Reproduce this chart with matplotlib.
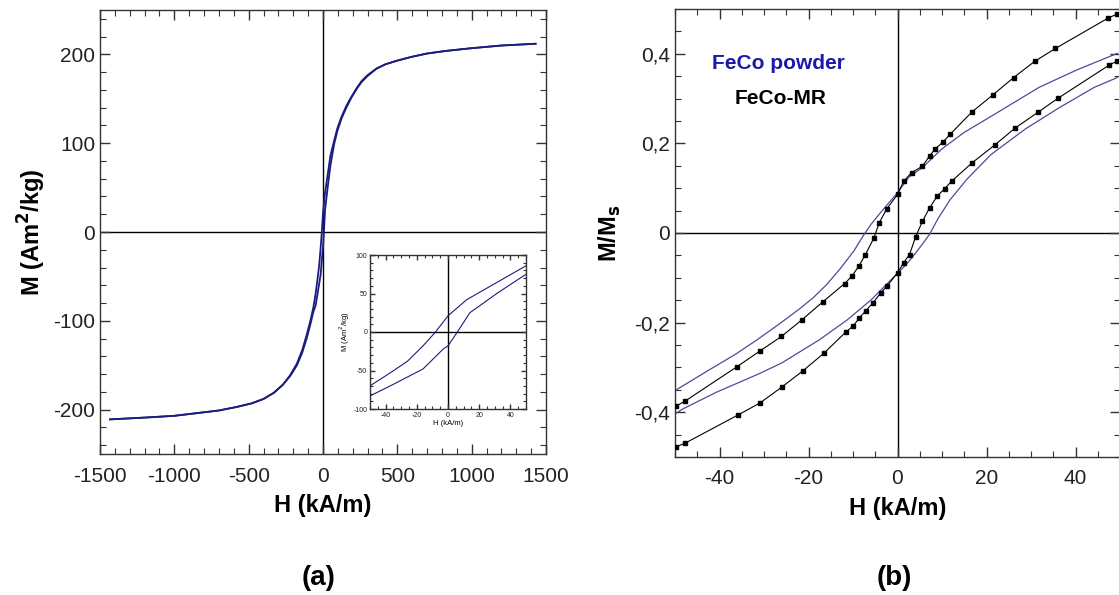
"""Hysteresis loops: (a) FeCo powder full loop with low-field inset, (b) normalised loops powder vs MR."""
import matplotlib
matplotlib.use("Agg")
import matplotlib.pyplot as plt
from matplotlib.ticker import MultipleLocator, FuncFormatter

plt.rcParams["font.family"] = ["Liberation Sans", "DejaVu Sans"]
plt.rcParams["axes.unicode_minus"] = False

# ---- panel (a): M (Am2/kg) vs H (kA/m), FeCo powder
h_desc_a = [1430, 1200, 1000, 830, 700, 590, 500, 422, 360, 302, 260, 230, 190, 157, 125, 97, 75,
            50, 31, 12, 0, -8, -16, -26, -37, -50, -65, -85, -110, -140, -175, -220, -270, -330,
            -400, -480, -580, -700, -850, -1000, -1200, -1432]
m_desc_a = [212, 210, 207, 204, 201, 197, 193, 189, 184, 177, 170, 163, 152, 142, 130, 117, 103,
            86, 64, 42, 21, 0, -18, -38, -53, -70, -85, -100, -116, -133, -148, -161, -172, -181,
            -188, -193, -197, -201, -204, -207, -209, -211]
h_asc_a = [-1432, -1200, -1000, -850, -700, -580, -480, -400, -330, -270, -220, -175, -140, -110,
           -85, -65, -50, -37, -16, -3, 0, 6, 14, 32, 50, 75, 97, 125, 157, 190, 230, 260, 302,
           360, 422, 500, 590, 700, 830, 1000, 1200, 1430]
m_asc_a = [-211, -209, -207, -204, -201, -197, -193, -188, -181, -172, -162, -150, -136, -120,
           -104, -90, -83, -70, -48, -22, -18, 0, 25, 51, 75, 99, 114, 128, 140, 151, 162, 169, 176,
           184, 189, 193, 197, 201, 204, 207, 210, 212]

# ---- panel (b): M/Ms vs H (kA/m)
h_mr_desc = [49.4, 47.2, 35.5, 30.8, 26.1, 21.4, 16.7, 11.8, 10.2, 8.4, 7.2, 5.6, 3.2, 1.4, 0,
             -2.4, -4.1, -5.3, -7.2, -8.7, -10.3, -11.9, -16.7, -21.5, -26.1, -31, -36, -47.7, -49.7]
m_mr_desc = [0.489, 0.479, 0.412, 0.383, 0.347, 0.308, 0.27, 0.22, 0.203, 0.187, 0.172, 0.149, 0.135,
             0.116, 0.086, 0.054, 0.023, -0.011, -0.048, -0.074, -0.097, -0.113, -0.153, -0.194,
             -0.231, -0.264, -0.298, -0.375, -0.386]
h_mr_asc = [-49.7, -47.7, -35.8, -31, -26, -21.3, -16.5, -11.5, -10, -8.6, -7.1, -5.5, -3.8, -2.4, 0,
            1.4, 2.7, 4.1, 5.6, 7.2, 8.9, 10.6, 12.2, 16.8, 21.8, 26.4, 31.5, 36.1, 47.6, 49.4]
m_mr_asc = [-0.477, -0.469, -0.406, -0.38, -0.344, -0.308, -0.268, -0.22, -0.208, -0.19, -0.173,
            -0.156, -0.134, -0.119, -0.089, -0.066, -0.048, -0.008, 0.026, 0.056, 0.082, 0.099,
            0.116, 0.157, 0.196, 0.234, 0.269, 0.301, 0.375, 0.384]
h_pw_desc = [49.4, 40.3, 31.8, 21.8, 14.9, 9.9, 5.6, 2.6, 0, -3.6, -5.9, -7.5, -9.8, -12.9, -15.9,
             -19, -22.1, -26.7, -31.5, -36.3, -42.9, -49.7]
m_pw_desc = [0.401, 0.364, 0.325, 0.265, 0.224, 0.187, 0.146, 0.125, 0.09, 0.048, 0.02, -0.003,
             -0.04, -0.08, -0.115, -0.145, -0.17, -0.204, -0.238, -0.27, -0.309, -0.35]
h_pw_asc = [-49.7, -48.3, -40.6, -31.3, -26, -17.5, -11.3, -5.9, -2.1, 0, 1.8, 3.5, 5.5, 7.2, 9.1,
            11.8, 15.6, 21, 28.7, 36.4, 44.2, 49.4]
m_pw_asc = [-0.402, -0.393, -0.355, -0.315, -0.29, -0.238, -0.194, -0.149, -0.111, -0.09, -0.072,
            -0.052, -0.026, -0.003, 0.032, 0.074, 0.12, 0.175, 0.232, 0.28, 0.325, 0.347]

NAVY = "#1c1c80"
BLUE_THIN = "#4b4b9c"
W, H = 1119, 595


def px_box(left, top, right, bottom):
    return [left / W, 1 - bottom / H, (right - left) / W, (bottom - top) / H]


def style_axes(ax, fs, major_len=7, minor_len=4):
    for s in ax.spines.values():
        s.set_color("#333333"); s.set_linewidth(1.0)
    ax.tick_params(which="both", direction="in", top=True, right=True, colors="#333333",
                   labelsize=fs, labelcolor="#222222")
    ax.tick_params(which="major", length=major_len, width=1.0)
    ax.tick_params(which="minor", length=minor_len, width=0.8)
    ax.axhline(0, color="black", lw=1.0, zorder=1)
    ax.axvline(0, color="black", lw=1.0, zorder=1)


fig = plt.figure(figsize=(W / 100, H / 100), dpi=100)

# (a)
ax = fig.add_axes(px_box(100, 10, 546, 454))
ax.plot(h_desc_a, m_desc_a, color=NAVY, lw=1.3, zorder=3)
ax.plot(h_asc_a, m_asc_a, color=NAVY, lw=1.3, zorder=3)
ax.set_xlim(-1500, 1500); ax.set_ylim(-250, 250)
ax.xaxis.set_major_locator(MultipleLocator(500)); ax.xaxis.set_minor_locator(MultipleLocator(100))
ax.yaxis.set_major_locator(MultipleLocator(100)); ax.yaxis.set_minor_locator(MultipleLocator(20))
style_axes(ax, 15)
ax.tick_params(axis="x", pad=9)
ax.set_xlabel("H (kA/m)", fontsize=17, fontweight="bold", labelpad=6)
ax.set_ylabel("M (Am$^{\\mathbf{2}}$/kg)", fontsize=17, fontweight="bold", labelpad=4)

ins = fig.add_axes(px_box(370, 255, 526, 409))
ins.plot(h_desc_a, m_desc_a, color=NAVY, lw=0.8, zorder=3)
ins.plot(h_asc_a, m_asc_a, color=NAVY, lw=0.8, zorder=3)
ins.set_xlim(-50, 50); ins.set_ylim(-100, 100)
ins.xaxis.set_major_locator(MultipleLocator(20)); ins.xaxis.set_minor_locator(MultipleLocator(5))
ins.yaxis.set_major_locator(MultipleLocator(50)); ins.yaxis.set_minor_locator(MultipleLocator(10))
style_axes(ins, 5, major_len=3.5, minor_len=2)
ins.tick_params(pad=2)
ins.set_xlabel("H (kA/m)", fontsize=5.5, labelpad=1)
ins.set_ylabel("M (Am$^2$/kg)", fontsize=5.5, labelpad=1)

# (b)
bx = fig.add_axes(px_box(675, 9, 1120, 457))
bx.plot(h_pw_desc, m_pw_desc, color=BLUE_THIN, lw=0.9, zorder=3)
bx.plot(h_pw_asc, m_pw_asc, color=BLUE_THIN, lw=0.9, zorder=3)
bx.plot(h_mr_desc, m_mr_desc, color="black", lw=0.8, marker="s", ms=2.2, zorder=4)
bx.plot(h_mr_asc, m_mr_asc, color="black", lw=0.8, marker="s", ms=2.2, zorder=4)
bx.set_xlim(-50, 50); bx.set_ylim(-0.5, 0.5)
bx.xaxis.set_major_locator(MultipleLocator(20)); bx.xaxis.set_minor_locator(MultipleLocator(5))
bx.yaxis.set_major_locator(MultipleLocator(0.2)); bx.yaxis.set_minor_locator(MultipleLocator(0.05))
bx.yaxis.set_major_formatter(FuncFormatter(lambda v, _: "0" if abs(v) < 1e-9 else f"{v:.1f}".replace(".", ",")))
style_axes(bx, 15)
bx.tick_params(axis="x", pad=9)
bx.set_xlabel("H (kA/m)", fontsize=17, fontweight="bold", labelpad=6)
bx.set_ylabel("M/M$_{\\mathbf{s}}$", fontsize=17, fontweight="bold", labelpad=8)
bx.text(0.233, 0.879, "FeCo powder", transform=bx.transAxes, ha="center", va="center",
        fontsize=15, fontweight="bold", color="#1a1aaa")
bx.text(0.238, 0.801, "FeCo-MR", transform=bx.transAxes, ha="center", va="center",
        fontsize=15, fontweight="bold", color="black")

fig.text(319 / W, 1 - 578 / H, "(a)", ha="center", va="center", fontsize=20, fontweight="bold")
fig.text(894 / W, 1 - 578 / H, "(b)", ha="center", va="center", fontsize=20, fontweight="bold")

fig.savefig("out.png", dpi=100)
